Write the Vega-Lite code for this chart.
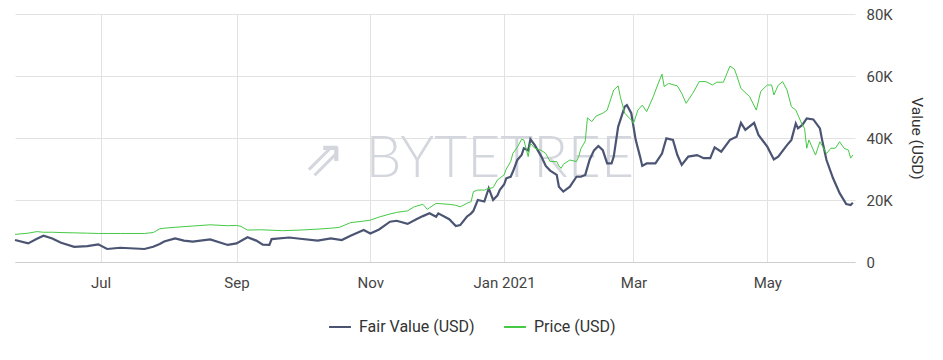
{
  "$schema": "https://vega.github.io/schema/vega-lite/v6.json",
  "autosize": {"type": "none"},
  "width": 840,
  "height": 248,
  "padding": {"left": 15, "top": 14, "right": 88, "bottom": 98},
  "background": "white",
  "config": {
    "view": {"stroke": null},
    "font": "Roboto"
  },
  "datasets": {
    "fair": [
      {"date":"2020-05-23","value":7100},{"date":"2020-05-29","value":6000},{"date":"2020-06-02","value":7500},{"date":"2020-06-05","value":8500},{"date":"2020-06-09","value":7600},{"date":"2020-06-13","value":6200},{"date":"2020-06-19","value":4900},{"date":"2020-06-25","value":5100},{"date":"2020-06-30","value":5700},{"date":"2020-07-04","value":4200},{"date":"2020-07-10","value":4600},{"date":"2020-07-21","value":4200},{"date":"2020-07-25","value":4900},{"date":"2020-07-28","value":5800},{"date":"2020-07-30","value":6600},{"date":"2020-08-04","value":7600},{"date":"2020-08-08","value":6900},{"date":"2020-08-12","value":6600},{"date":"2020-08-20","value":7300},{"date":"2020-08-28","value":5500},{"date":"2020-09-01","value":6000},{"date":"2020-09-06","value":8000},{"date":"2020-09-10","value":6900},{"date":"2020-09-13","value":5600},{"date":"2020-09-16","value":5500},{"date":"2020-09-17","value":7400},{"date":"2020-09-25","value":7900},{"date":"2020-09-30","value":7500},{"date":"2020-10-08","value":6900},{"date":"2020-10-14","value":7600},{"date":"2020-10-19","value":7100},{"date":"2020-10-23","value":8500},{"date":"2020-10-29","value":10300},{"date":"2020-11-01","value":9200},{"date":"2020-11-05","value":10500},{"date":"2020-11-10","value":13000},{"date":"2020-11-13","value":13300},{"date":"2020-11-18","value":12300},{"date":"2020-11-22","value":13800},{"date":"2020-11-25","value":14800},{"date":"2020-11-28","value":15700},{"date":"2020-12-01","value":14600},{"date":"2020-12-02","value":15700},{"date":"2020-12-07","value":13800},{"date":"2020-12-10","value":11600},{"date":"2020-12-12","value":11900},{"date":"2020-12-15","value":14600},{"date":"2020-12-17","value":15700},{"date":"2020-12-18","value":16500},{"date":"2020-12-20","value":20000},{"date":"2020-12-23","value":19500},{"date":"2020-12-25","value":23800},{"date":"2020-12-27","value":20000},{"date":"2020-12-29","value":21500},{"date":"2020-12-30","value":23200},{"date":"2021-01-01","value":25000},{"date":"2021-01-02","value":27000},{"date":"2021-01-04","value":27500},{"date":"2021-01-05","value":29100},{"date":"2021-01-07","value":32900},{"date":"2021-01-09","value":34500},{"date":"2021-01-10","value":36700},{"date":"2021-01-12","value":36000},{"date":"2021-01-13","value":39600},{"date":"2021-01-15","value":37700},{"date":"2021-01-18","value":34000},{"date":"2021-01-20","value":31000},{"date":"2021-01-22","value":29500},{"date":"2021-01-25","value":28100},{"date":"2021-01-26","value":24300},{"date":"2021-01-28","value":22700},{"date":"2021-01-31","value":24300},{"date":"2021-02-03","value":27500},{"date":"2021-02-05","value":27500},{"date":"2021-02-07","value":28100},{"date":"2021-02-09","value":33000},{"date":"2021-02-11","value":36000},{"date":"2021-02-13","value":37400},{"date":"2021-02-15","value":36100},{"date":"2021-02-17","value":31800},{"date":"2021-02-19","value":31800},{"date":"2021-02-20","value":34000},{"date":"2021-02-22","value":43600},{"date":"2021-02-25","value":50100},{"date":"2021-02-26","value":50600},{"date":"2021-02-28","value":48000},{"date":"2021-03-02","value":39400},{"date":"2021-03-04","value":34000},{"date":"2021-03-05","value":31000},{"date":"2021-03-07","value":31800},{"date":"2021-03-11","value":31800},{"date":"2021-03-14","value":35000},{"date":"2021-03-16","value":39900},{"date":"2021-03-19","value":39400},{"date":"2021-03-21","value":34500},{"date":"2021-03-23","value":31300},{"date":"2021-03-26","value":34000},{"date":"2021-03-30","value":34500},{"date":"2021-04-02","value":33500},{"date":"2021-04-05","value":33500},{"date":"2021-04-07","value":37000},{"date":"2021-04-10","value":35600},{"date":"2021-04-14","value":39400},{"date":"2021-04-17","value":40400},{"date":"2021-04-19","value":44900},{"date":"2021-04-21","value":42600},{"date":"2021-04-25","value":44900},{"date":"2021-04-27","value":41000},{"date":"2021-05-01","value":37200},{"date":"2021-05-04","value":33100},{"date":"2021-05-06","value":34000},{"date":"2021-05-10","value":37700},{"date":"2021-05-12","value":39400},{"date":"2021-05-14","value":44700},{"date":"2021-05-15","value":43100},{"date":"2021-05-17","value":44200},{"date":"2021-05-19","value":46300},{"date":"2021-05-22","value":46000},{"date":"2021-05-25","value":43100},{"date":"2021-05-26","value":39400},{"date":"2021-05-28","value":32900},{"date":"2021-05-31","value":27000},{"date":"2021-06-03","value":22200},{"date":"2021-06-06","value":18700},{"date":"2021-06-08","value":18400},{"date":"2021-06-09","value":19100}
    ],
    "price": [
      {"date":"2020-05-23","value":8900},{"date":"2020-05-29","value":9300},{"date":"2020-06-02","value":9800},{"date":"2020-06-05","value":9600},{"date":"2020-06-09","value":9600},{"date":"2020-06-13","value":9500},{"date":"2020-06-19","value":9400},{"date":"2020-06-25","value":9300},{"date":"2020-06-30","value":9200},{"date":"2020-07-04","value":9200},{"date":"2020-07-10","value":9200},{"date":"2020-07-21","value":9200},{"date":"2020-07-25","value":9500},{"date":"2020-07-28","value":10700},{"date":"2020-07-30","value":10900},{"date":"2020-08-04","value":11200},{"date":"2020-08-08","value":11400},{"date":"2020-08-12","value":11600},{"date":"2020-08-20","value":12000},{"date":"2020-08-28","value":11700},{"date":"2020-09-01","value":11800},{"date":"2020-09-03","value":11500},{"date":"2020-09-06","value":10300},{"date":"2020-09-12","value":10400},{"date":"2020-09-22","value":10100},{"date":"2020-09-30","value":10300},{"date":"2020-10-08","value":10600},{"date":"2020-10-14","value":10900},{"date":"2020-10-18","value":11200},{"date":"2020-10-23","value":12700},{"date":"2020-10-29","value":13200},{"date":"2020-11-01","value":13500},{"date":"2020-11-05","value":14500},{"date":"2020-11-10","value":15500},{"date":"2020-11-13","value":16000},{"date":"2020-11-18","value":16500},{"date":"2020-11-21","value":17800},{"date":"2020-11-25","value":18600},{"date":"2020-11-27","value":17000},{"date":"2020-11-28","value":17500},{"date":"2020-12-01","value":18900},{"date":"2020-12-07","value":18600},{"date":"2020-12-10","value":18300},{"date":"2020-12-12","value":17800},{"date":"2020-12-15","value":18900},{"date":"2020-12-17","value":19500},{"date":"2020-12-18","value":22700},{"date":"2020-12-20","value":23200},{"date":"2020-12-23","value":23200},{"date":"2020-12-24","value":23500},{"date":"2020-12-27","value":24000},{"date":"2020-12-29","value":26500},{"date":"2020-12-30","value":27000},{"date":"2021-01-01","value":28100},{"date":"2021-01-02","value":30000},{"date":"2021-01-04","value":32400},{"date":"2021-01-05","value":35000},{"date":"2021-01-07","value":37000},{"date":"2021-01-09","value":39600},{"date":"2021-01-10","value":39400},{"date":"2021-01-12","value":34000},{"date":"2021-01-13","value":38300},{"date":"2021-01-15","value":36700},{"date":"2021-01-18","value":36000},{"date":"2021-01-20","value":35000},{"date":"2021-01-22","value":32400},{"date":"2021-01-25","value":32400},{"date":"2021-01-26","value":31000},{"date":"2021-01-27","value":30200},{"date":"2021-01-28","value":31500},{"date":"2021-01-31","value":32900},{"date":"2021-02-03","value":32400},{"date":"2021-02-04","value":34000},{"date":"2021-02-05","value":36500},{"date":"2021-02-07","value":39000},{"date":"2021-02-08","value":46500},{"date":"2021-02-10","value":45300},{"date":"2021-02-12","value":47100},{"date":"2021-02-15","value":48000},{"date":"2021-02-17","value":49000},{"date":"2021-02-20","value":55500},{"date":"2021-02-22","value":56800},{"date":"2021-02-23","value":53300},{"date":"2021-02-25","value":48000},{"date":"2021-02-28","value":45800},{"date":"2021-03-01","value":44700},{"date":"2021-03-03","value":49000},{"date":"2021-03-05","value":50600},{"date":"2021-03-07","value":48500},{"date":"2021-03-10","value":53300},{"date":"2021-03-12","value":57100},{"date":"2021-03-14","value":60600},{"date":"2021-03-15","value":56600},{"date":"2021-03-17","value":57600},{"date":"2021-03-21","value":56800},{"date":"2021-03-23","value":54400},{"date":"2021-03-25","value":51200},{"date":"2021-03-28","value":54400},{"date":"2021-03-31","value":58200},{"date":"2021-04-03","value":58200},{"date":"2021-04-06","value":57100},{"date":"2021-04-08","value":58000},{"date":"2021-04-11","value":58000},{"date":"2021-04-12","value":59800},{"date":"2021-04-14","value":63200},{"date":"2021-04-16","value":62200},{"date":"2021-04-17","value":60300},{"date":"2021-04-19","value":56000},{"date":"2021-04-23","value":53300},{"date":"2021-04-26","value":49000},{"date":"2021-04-28","value":55000},{"date":"2021-05-01","value":57100},{"date":"2021-05-03","value":57100},{"date":"2021-05-04","value":53900},{"date":"2021-05-06","value":57000},{"date":"2021-05-08","value":58200},{"date":"2021-05-10","value":55500},{"date":"2021-05-12","value":50100},{"date":"2021-05-14","value":49000},{"date":"2021-05-16","value":45800},{"date":"2021-05-17","value":44200},{"date":"2021-05-18","value":43100},{"date":"2021-05-19","value":36700},{"date":"2021-05-20","value":39400},{"date":"2021-05-22","value":36100},{"date":"2021-05-23","value":34500},{"date":"2021-05-25","value":38800},{"date":"2021-05-28","value":35000},{"date":"2021-05-30","value":36700},{"date":"2021-06-01","value":36700},{"date":"2021-06-03","value":38800},{"date":"2021-06-05","value":36700},{"date":"2021-06-07","value":36100},{"date":"2021-06-08","value":33500},{"date":"2021-06-09","value":34500}
    ],
    "mark": [{"label":"BYTETREE","date":"2020-12-30","value":33000}],
    "icon": [{"label":"⇗","date":"2020-10-11","value":33000}]
  },
  "encoding": {
    "x": {
      "field": "date", "type": "temporal",
      "scale": {"type": "utc", "domain": [{"year":2020,"month":5,"date":23,"utc":true},{"year":2021,"month":6,"date":10,"utc":true}]},
      "axis": {
        "title": null,
        "values": [{"year":2020,"month":7,"date":1,"utc":true},{"year":2020,"month":9,"date":1,"utc":true},{"year":2020,"month":11,"date":1,"utc":true},{"year":2021,"month":1,"date":1,"utc":true},{"year":2021,"month":3,"date":1,"utc":true},{"year":2021,"month":5,"date":1,"utc":true}],
        "labelExpr": "utcFormat(datum.value, '%m') == '01' ? utcFormat(datum.value, '%b %Y') : utcFormat(datum.value, '%b')",
        "grid": true, "gridColor": "#e2e2e2", "gridWidth": 1,
        "ticks": false, "domain": true, "domainColor": "#cfcfcf",
        "labelFontSize": 15, "labelColor": "#444", "labelPadding": 13, "labelFont": "Roboto"
      }
    },
    "y": {
      "field": "value", "type": "quantitative",
      "scale": {"domain": [0, 80000], "nice": false},
      "axis": {
        "orient": "right", "title": "Value (USD)",
        "values": [0, 20000, 40000, 60000, 80000],
        "labelExpr": "datum.value == 0 ? '0' : format(datum.value / 1000, 'd') + 'K'",
        "grid": true, "gridColor": "#e2e2e2", "domain": false, "ticks": false,
        "labelFontSize": 15, "labelColor": "#444", "labelPadding": 11, "labelFont": "Roboto",
        "titleFontSize": 15.5, "titleFontWeight": "normal", "titleColor": "#333", "titlePadding": 16, "titleFont": "Roboto"
      }
    }
  },
  "layer": [
    {
      "data": {"name": "mark"},
      "mark": {"type": "text", "font": "Lato", "fontSize": 57, "fontWeight": 300, "color": "#d3d6dd", "align": "center", "baseline": "middle"},
      "encoding": {"text": {"field": "label"}}
    },
    {
      "data": {"name": "icon"},
      "mark": {"type": "text", "font": "DejaVu Sans", "fontSize": 50, "color": "#d3d6dd", "align": "center", "baseline": "middle"},
      "encoding": {"text": {"field": "label"}}
    },
    {
      "data": {"name": "fair"},
      "transform": [{"calculate": "'Fair Value (USD)'", "as": "series"}],
      "mark": {"type": "line", "strokeWidth": 2.2},
      "encoding": {
        "color": {"field": "series", "type": "nominal",
          "scale": {"domain": ["Fair Value (USD)", "Price (USD)"], "range": ["#4b5573", "#45c945"]},
          "legend": {"orient": "none", "legendX": 313, "legendY": 301, "title": null, "direction": "horizontal", "symbolType": "stroke", "symbolSize": 480, "symbolStrokeWidth": 2, "labelFontSize": 16, "labelColor": "#333", "labelFont": "Roboto", "labelOffset": 7, "columnPadding": 25}
        }
      }
    },
    {
      "data": {"name": "price"},
      "transform": [{"calculate": "'Price (USD)'", "as": "series"}],
      "mark": {"type": "line", "strokeWidth": 1},
      "encoding": {
        "color": {"field": "series", "type": "nominal"}
      }
    }
  ]
}
